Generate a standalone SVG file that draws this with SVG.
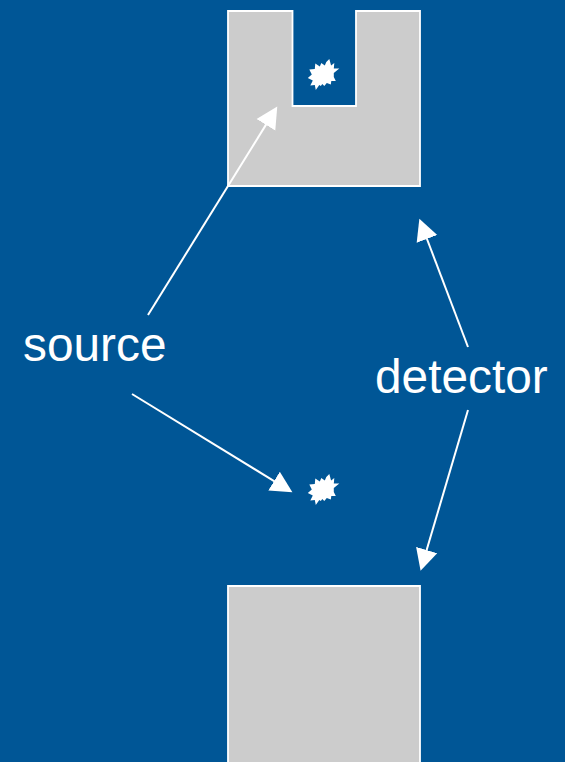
<svg xmlns="http://www.w3.org/2000/svg" width="565" height="762" viewBox="0 0 565 762">
  <style>
    .block { fill: #cccccc; stroke: #ffffff; stroke-width: 1.8; }
    .conn { stroke: #ffffff; stroke-width: 2; fill: none; marker-end: url(#head); }
    .lbl { font-family: "Liberation Sans", Arial, sans-serif; font-size: 47.8px; fill: #ffffff; }
    .star { fill: #ffffff; }
  </style>
  <defs>
    <marker id="head" markerUnits="userSpaceOnUse" markerWidth="23" markerHeight="24" refX="0.5" refY="11.5" orient="auto">
      <path d="M0,0.5 L21.5,11.5 L0,22.5 Z" fill="#ffffff"/>
    </marker>
    <polygon id="burst" points="6,-16 7.8,-9.5 11,-12 10.5,-6.5 16,-6.5 10.5,-2 10.5,2 12.5,6 8,6 7.5,9.5 3.5,8 1,11 -1,9 -2.5,11 -4,10 -7.5,15 -8.5,10 -13,10.5 -10.5,5.5 -15.5,3 -11.5,-0.5 -14,-5.5 -8.5,-6 -8,-11.5 -3.5,-8.5 -2,-12 1.5,-9.5 3,-13"/>
  </defs>
  <rect id="background" width="565" height="762" fill="#005696"/>
  <g id="detector-top">
    <path class="block" d="M228,11 H292.5 V106 H356 V11 H420 V186 H228 Z"/>
  </g>
  <g id="detector-bottom">
    <path class="block" d="M228,586 H420 V770 H228 Z"/>
  </g>
  <g id="source-top"><use href="#burst" class="star" x="323.3" y="75"/></g>
  <g id="source-bottom"><use href="#burst" class="star" x="323.3" y="490"/></g>
  <g id="connectors">
    <line class="conn" x1="148" y1="315" x2="266.2" y2="124.4"/>
    <line class="conn" x1="132" y1="394" x2="274.5" y2="481.3"/>
    <line class="conn" x1="468" y1="347" x2="426.8" y2="238.5"/>
    <line class="conn" x1="468" y1="410" x2="426.5" y2="550.5"/>
  </g>
  <g id="label-source"><text class="lbl" x="23" y="361">source</text></g>
  <g id="label-detector"><text class="lbl" x="375" y="393">detector</text></g>
</svg>
